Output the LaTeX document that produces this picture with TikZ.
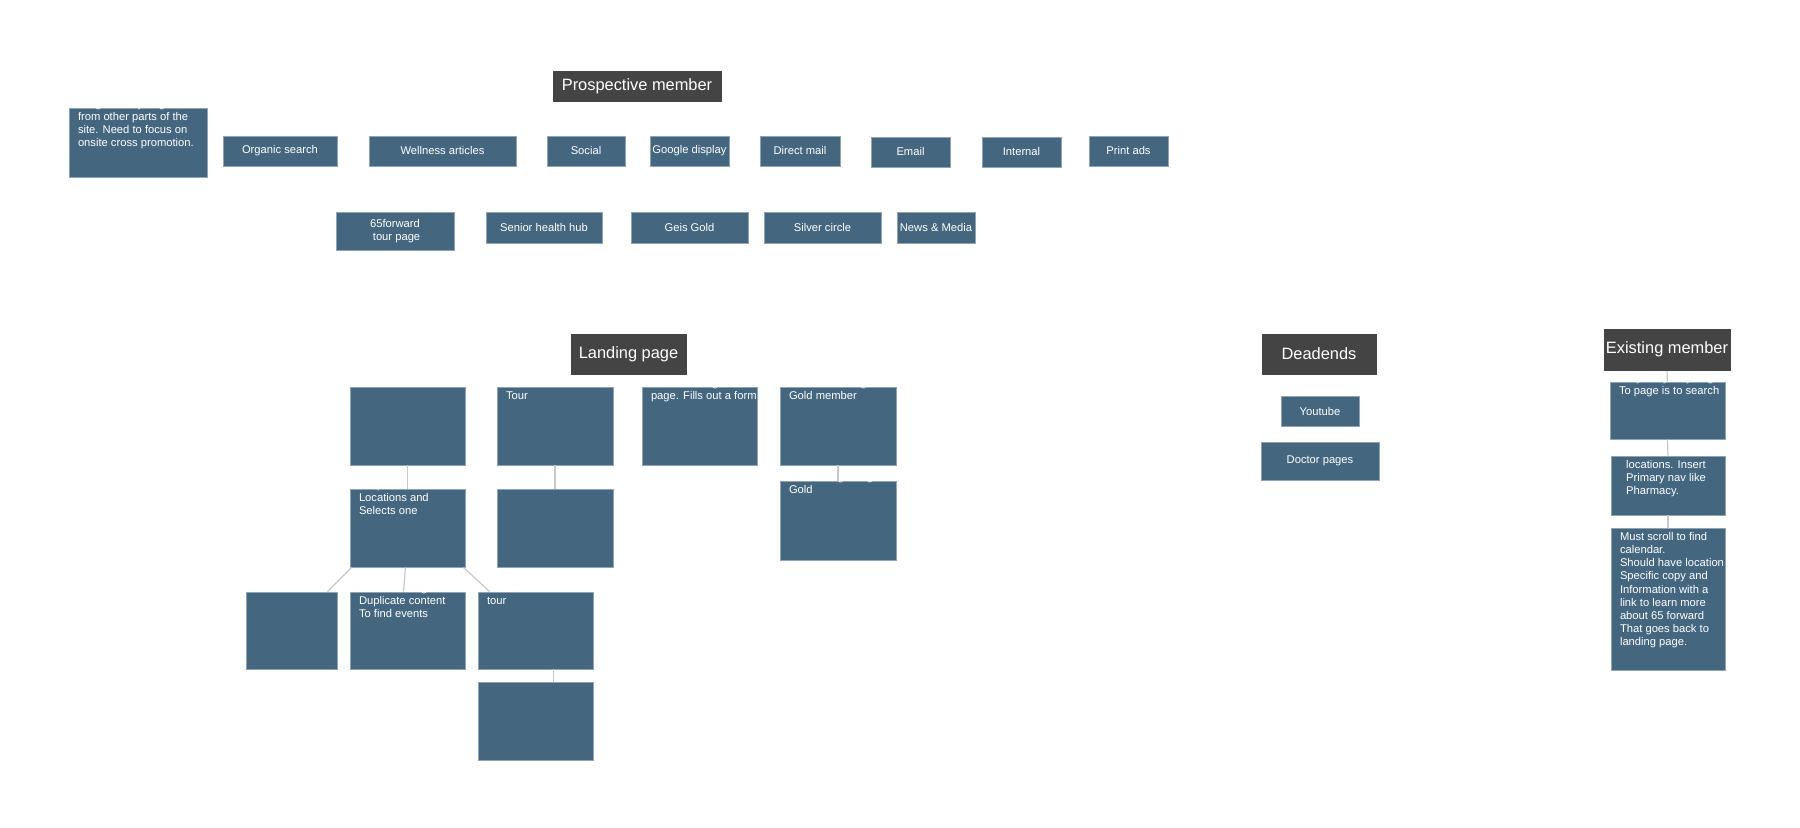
\documentclass[tikz,border=0pt]{standalone}
\usepackage{fontspec}
\setmainfont{Liberation Sans}
\usetikzlibrary{calc}
\definecolor{bbl}{HTML}{44667F}
\definecolor{dgr}{HTML}{444444}
\definecolor{lin}{HTML}{C8C8C8}
\tikzset{
 bbox/.style={fill=bbl,draw=bbl!60!white,line width=0.4pt,inner sep=0pt,text=white,font=\fontsize{5.6}{6.6}\selectfont,align=center},
 dbox/.style={fill=dgr,draw=white,line width=0.4pt,inner sep=0pt,text=white,font=\fontsize{8.2}{9.5}\selectfont},
 ttxt/.style={anchor=north west,inner sep=0pt,text=white,font=\fontsize{5.6}{6.6}\selectfont,align=left},
 conn/.style={draw=lin,line width=0.6pt}
}
% name, x1,y1,x2,y2, style, text (centered)
\newcommand\cbx[7]{\node[#6,minimum width={(#4-#2)*0.5pt},minimum height={(#5-#3)*0.5pt}] (#1) at ({(#2+#4)/2},{(#3+#5)/2}) {#7};}
% top-left text
\newcommand\tbx[7]{\node[#6,minimum width={(#4-#2)*0.5pt},minimum height={(#5-#3)*0.5pt}] (#1) at ({(#2+#4)/2},{(#3+#5)/2}) {};
\node[ttxt] at ($(#1.north west)+(9,-9)$) {#7};}
\begin{document}
\begin{tikzpicture}[x=0.5pt,y=-0.5pt]
\useasboundingbox[fill=white] (0,0) rectangle (1800,828);
% lines first
\coordinate (dummy) at (0,0);
\cbx{pm}{552}{70}{722}{102}{dbox}{Prospective member}
\tbx{nogood}{69}{108}{207}{177}{bbox}{No good way to get here\\from other parts of the\\site. Need to focus on\\onsite cross promotion.}
\cbx{org}{223}{136}{337}{166}{bbox}{Organic search}
\cbx{well}{369}{136}{516}{166}{bbox}{Wellness articles}
\cbx{soc}{547}{136}{625}{166}{bbox}{Social}
\cbx{gd}{650}{136}{729}{166}{bbox}{Google display}
\cbx{dm}{760}{136}{840}{166}{bbox}{Direct mail}
\cbx{em}{871}{137}{950}{167}{bbox}{Email}
\cbx{int}{982}{137}{1061}{167}{bbox}{Internal}
\cbx{pa}{1089}{136}{1168}{166}{bbox}{Print ads}
\cbx{f65}{336}{212}{454}{250}{bbox}{65forward\\\ tour page}
\cbx{shh}{486}{212}{602}{243}{bbox}{Senior health hub}
\cbx{gg}{631}{212}{748}{243}{bbox}{Geis Gold}
\cbx{sc}{764}{212}{881}{243}{bbox}{Silver circle}
\cbx{nm}{897}{212}{975}{243}{bbox}{News \& Media}
\cbx{lp}{570}{333}{687}{375}{dbox}{Landing page}
\tbx{cfl}{350}{387}{465}{465}{bbox}{Clicks find a location}
\tbx{cst}{497}{387}{613}{465}{bbox}{Clicks schedule\\Tour}
\tbx{rtp}{642}{387}{757}{465}{bbox}{Reads through the\\page. Fills out a form}
\tbx{ing}{780}{387}{896}{465}{bbox}{Is not a Geisinger\\Gold member}
\tbx{dd}{350}{489}{465}{567}{bbox}{Drops down to\\Locations and\\Selects one}
\tbx{fof}{497}{489}{613}{567}{bbox}{Fills out form}
\tbx{cog}{780}{481}{896}{560}{bbox}{Clicks on geisinger\\Gold}
\tbx{calls}{246}{592}{337}{669}{bbox}{Calls}
\tbx{scr}{350}{592}{465}{669}{bbox}{Scrolls through\\Duplicate content\\To find events}
\tbx{cstr}{478}{592}{593}{669}{bbox}{Clicked schedule\\tour}
\tbx{fof2}{478}{682}{593}{760}{bbox}{Fills out form}
\cbx{de}{1261}{333}{1377}{375}{dbox}{Deadends}
\cbx{yt}{1281}{396}{1359}{426}{bbox}{Youtube}
\cbx{dp}{1261}{442}{1379}{480}{bbox}{Doctor pages}
\cbx{exm}{1603}{328}{1731}{371}{dbox}{Existing member}
\tbx{oe}{1610}{382}{1725}{439}{bbox}{Only easy way to get\\To page is to search}
\tbx{ms}{1611}{456}{1725}{515}{bbox}{\ \ Must scroll to find\\\ \ locations. Insert\\\ \ Primary nav like\\\ \ Pharmacy.}
\tbx{pl}{1611}{528}{1725}{670}{bbox}{Picks location.\\Must scroll to find\\calendar.\\Should have location\\Specific copy and\\Information with a\\link to learn more\\about 65 forward\\That goes back to\\landing page.}
\begin{scope}[on background layer/.try]
\end{scope}
\draw[conn] (exm.south) -- (oe.north);
\draw[conn] (oe.south) -- (ms.north);
\draw[conn] (ms.south) -- (pl.north);
\draw[conn] (cfl.south) -- (dd.north);
\draw[conn] (cst.south) -- (fof.north);
\draw[conn] (ing.south) -- (cog.north);
\draw[conn] (dd.south west)++(2,0) -- ($(calls.north east)+(-10,0)$);
\draw[conn] (dd.south) ++(-2,0) -- ($(scr.north)+(-4,0)$);
\draw[conn] ($(dd.south east)+(-2,0)$) -- ($(cstr.north west)+(12,0)$);
\draw[conn] ($(cstr.south)+(18,0)$) -- ($(fof2.north)+(18,0)$);
\end{tikzpicture}
\end{document}
